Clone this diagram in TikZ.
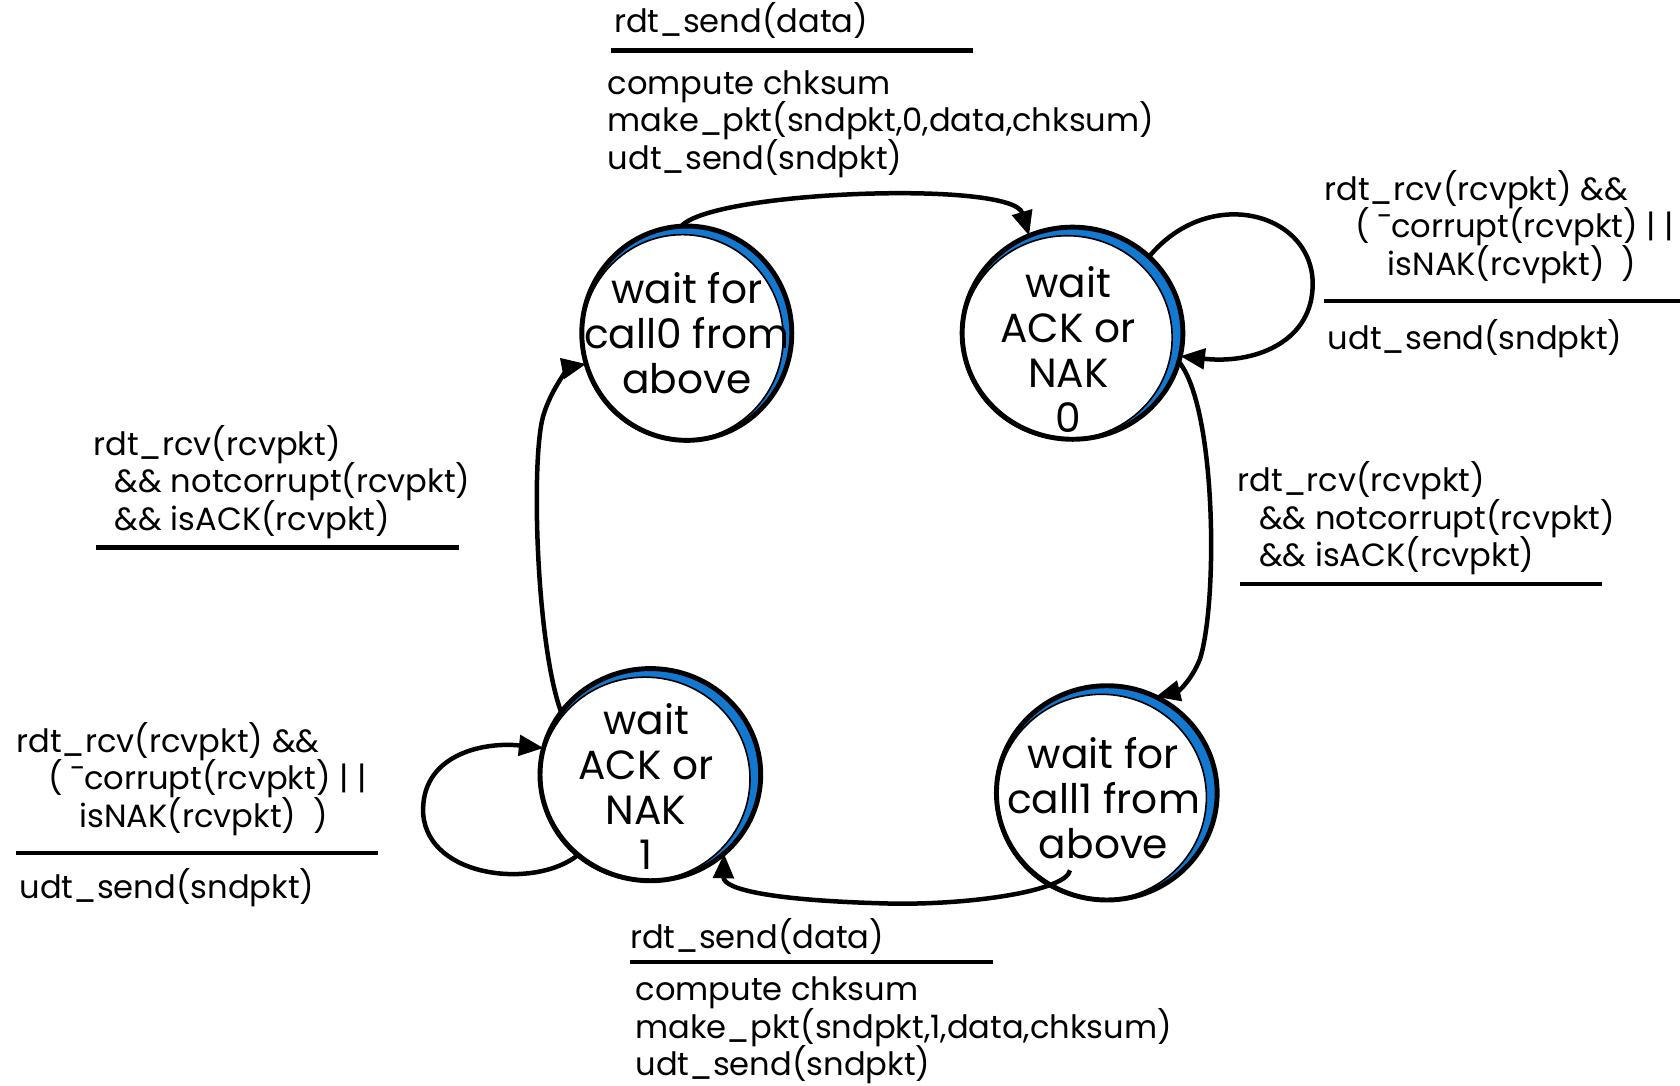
\documentclass[tikz,border=0pt]{standalone}
\usepackage{fontspec}
\setmainfont{Poppins}
\usetikzlibrary{arrows.meta,shapes.geometric}
\definecolor{stateblue}{RGB}{18,120,208}
\newcommand\tightlines{\lineskiplimit=-100pt\relax\lineskip=0pt\relax}
\tikzset{
  lbl/.style={inner sep=0pt, anchor=base west, align=left,
    font=\fontsize{30}{35}\selectfont\tightlines},
  stxt/.style={inner sep=0pt, align=center,
    font=\fontsize{38}{42}\selectfont\tightlines},
  st/.style={ellipse, draw, line width=4.6pt, inner sep=0pt, outer sep=0pt},
  tr/.style={line width=4.2pt, -{Triangle[length=23pt,width=19pt]}},
  guard/.style={line width=4.2pt},
  inner/.style={line width=1.5pt},
}
\begin{document}
\begin{tikzpicture}[x=1pt,y=-1pt]
\useasboundingbox[fill=white] (0,0) rectangle (1568,1013);

% ---- state A: wait for call0 from above
\fill[stateblue, even odd rule] (641,311) ellipse [x radius=98, y radius=100]
  (637,315) ellipse [x radius=94, y radius=96];
\draw[inner] (637,315) ellipse [x radius=94, y radius=96];
\node[st, minimum width=196pt, minimum height=200pt] (A) at (641,311) {};
\node[stxt] (At) at (641,311) {wait for\\call0 from\\above};

% ---- state B: wait ACK or NAK 0
\fill[stateblue, even odd rule] (1001,311) ellipse [x radius=103, y radius=99]
  (996,315) ellipse [x radius=98, y radius=95];
\draw[inner] (996,315) ellipse [x radius=98, y radius=95];
\node[st, minimum width=206pt, minimum height=198pt] (B) at (1001,311) {};
\node[stxt] (Bt) at (997,326) {wait\\ACK or\\NAK\\0};

% ---- state C: wait for call1 from above
\fill[stateblue, even odd rule] (1033,740) ellipse [x radius=103, y radius=100]
  (1028,744) ellipse [x radius=98, y radius=96];
\draw[inner] (1028,744) ellipse [x radius=98, y radius=96];
\node[st, minimum width=206pt, minimum height=200pt] (C) at (1033,740) {};
\node[stxt] (Ct) at (1030,745) {wait for\\call1 from\\above};

% ---- state D: wait ACK or NAK 1
\fill[stateblue, even odd rule] (607,723) ellipse [x radius=103, y radius=99]
  (602,727) ellipse [x radius=98, y radius=95];
\draw[inner] (602,727) ellipse [x radius=98, y radius=95];
\node[st, minimum width=206pt, minimum height=198pt] (D) at (607,723) {};
\node[stxt] (Dt) at (603,734) {wait\\ACK or\\NAK\\1};

% ---- transitions
\draw[tr] (A.93) .. controls (665,178) and (945,168) .. (B.114);
\draw[tr] (B.45) .. controls (1130,170) and (1230,200) .. (1225,270)
  .. controls (1222,320) and (1170,340) .. (B.-12);
\draw[tr] (B.-15) .. controls (1135,380) and (1137,560) .. (1120,615)
  .. controls (1112,635) and (1100,645) .. (C.63);
\draw[tr] ([yshift=22pt]C.-110) .. controls (995,832) and (900,846) .. (820,843)
  .. controls (720,840) and (675,830) .. (D.-47);
\draw[tr] (D.145) .. controls (500,600) and (495,420) .. (508,385)
  .. controls (518,355) and (535,342) .. (A.197);
\draw[tr] (D.-132) .. controls (500,830) and (400,820) .. (395,760)
  .. controls (392,705) and (450,692) .. (D.166);

% ---- labels (base anchor = baseline of the last line)
% top: A -> B
\node[lbl] (l1e) at (573,30) {rdt\_send(data)};
\draw[guard] (570,47) -- (908,47);
\node[lbl] (l1a) at (567,158) {compute chksum\\make\_pkt(sndpkt,0,data,chksum)\\udt\_send(sndpkt)};

% right top: B self loop
\node[lbl] (l2e) at (1236,257) {rdt\_rcv(rcvpkt) \&\&\\\hspace*{29pt}( ¯corrupt(rcvpkt) | |\\\hspace*{59pt}isNAK(rcvpkt) \ )};
\draw[guard] (1236,281) -- (1568,281);
\node[lbl] (l2a) at (1239,326) {udt\_send(sndpkt)};

% right mid: B -> C
\node[lbl] (l3e) at (1155,529) {rdt\_rcv(rcvpkt)\\\hspace*{20pt}\&\& notcorrupt(rcvpkt)\\\hspace*{20pt}\&\& isACK(rcvpkt)};
\draw[guard] (1157,545) -- (1495,545);

% left mid: D -> A
\node[lbl] (l4e) at (87,495) {rdt\_rcv(rcvpkt)\\\hspace*{20pt}\&\& notcorrupt(rcvpkt)\\\hspace*{20pt}\&\& isACK(rcvpkt)};
\draw[guard] (90,511) -- (428,511);

% left bottom: D self loop
\node[lbl] (l5e) at (15,772) {rdt\_rcv(rcvpkt) \&\&\\\hspace*{30pt}( ¯corrupt(rcvpkt) | |\\\hspace*{59pt}isNAK(rcvpkt) \ )};
\draw[guard] (15,796) -- (353,796);
\node[lbl] (l5a) at (18,839) {udt\_send(sndpkt)};

% bottom: C -> D
\node[lbl] (l6e) at (588,885) {rdt\_send(data)};
\draw[guard] (588,898) -- (927,898);
\node[lbl] (l6a) at (593,1004) {compute chksum\\make\_pkt(sndpkt,1,data,chksum)\\udt\_send(sndpkt)};
\end{tikzpicture}
\end{document}
